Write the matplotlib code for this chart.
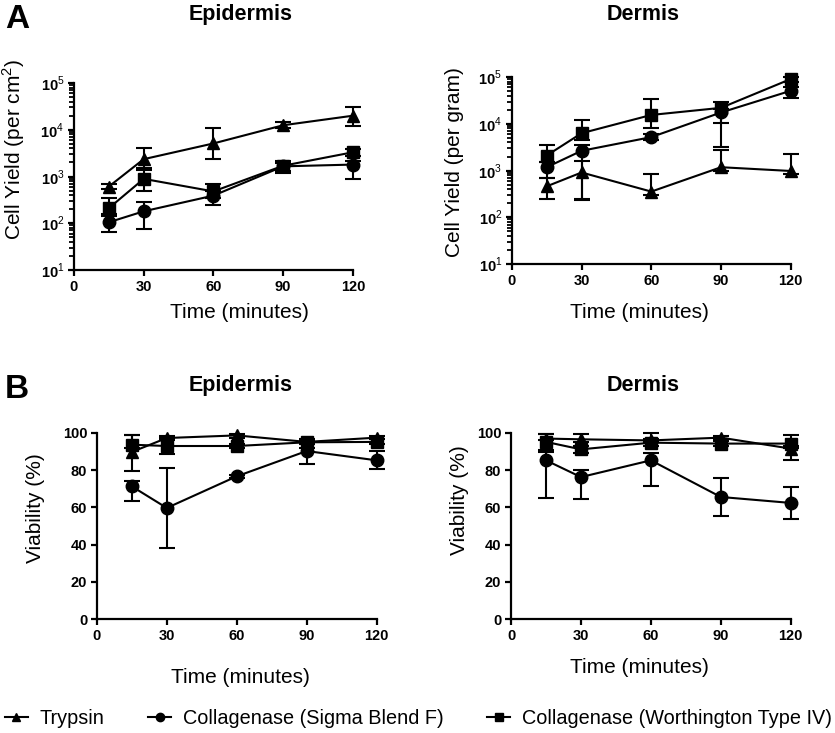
import matplotlib
matplotlib.use("Agg")
import matplotlib.pyplot as plt
from matplotlib.lines import Line2D
from matplotlib.ticker import LogLocator, NullFormatter
import numpy as np

plt.rcParams['font.family'] = ['Liberation Sans', 'DejaVu Sans']
plt.rcParams['mathtext.fontset'] = 'custom'
plt.rcParams['mathtext.rm'] = 'Liberation Sans'
plt.rcParams['mathtext.bf'] = 'Liberation Sans:bold'

# 时间点 (minutes)
times = [15, 30, 60, 90, 120]
series_names = ["Trypsin", "Collagenase (Sigma Blend F)", "Collagenase (Worthington Type IV)"]
markers = ["^", "o", "s"]

# A: cell yield, epidermis (per cm2)
epi_yield = [[610, 2350, 5100, 12500, 20000],
             [105, 180, 390, 1650, 1800],
             [210, 890, 480, 1700, 3300]]
epi_yield_lo = [[540, 1400, 2400, 11000, 12000],
                [66, 77, 250, 1170, 890],
                [160, 500, 340, 1300, 2800]]
epi_yield_hi = [[700, 4100, 11000, 14500, 31000],
                [140, 290, 480, 1900, 2200],
                [345, 1500, 690, 2100, 3900]]

# A: cell yield, dermis (per gram)
der_yield = [[460, 910, 355, 1180, 980],
             [1180, 2650, 5200, 17500, 51000],
             [2100, 6300, 15500, 22000, 91000]]
der_yield_lo = [[245, 235, 300, 1000, 850],
                [690, 250, 4500, 3200, 36000],
                [1500, 4500, 8000, 10400, 80000]]
der_yield_hi = [[700, 1600, 850, 2800, 2230],
                [1500, 3500, 6000, 21000, 60000],
                [3500, 12300, 34000, 30000, 100000]]

# B: viability, epidermis (%)
epi_via = [[89.8, 97.3, 98.7, 95.2, 97.5],
           [71.3, 59.7, 76.7, 90.3, 85.3],
           [93.7, 93.0, 93.0, 95.0, 95.2]]
epi_via_lo = [[79.6, 96.0, 97.5, 94.0, 96.5],
              [63.4, 38.2, 76.0, 83.5, 80.8],
              [92.0, 88.5, 92.0, 94.0, 94.0]]
epi_via_hi = [[98.7, 98.5, 99.5, 96.5, 98.5],
              [74.2, 81.4, 77.5, 92.0, 90.1],
              [99.0, 97.5, 94.0, 96.0, 96.5]]

# B: viability, dermis (%)
der_via = [[97.0, 96.6, 96.0, 97.5, 91.6],
           [85.3, 76.3, 85.3, 65.6, 62.4],
           [95.2, 91.2, 94.8, 94.3, 94.3]]
der_via_lo = [[96.0, 95.0, 95.0, 96.5, 85.7],
              [65.2, 64.7, 71.3, 55.2, 53.9],
              [91.0, 89.0, 93.0, 93.0, 92.0]]
der_via_hi = [[99.5, 99.5, 97.0, 98.5, 93.0],
              [90.0, 80.0, 89.0, 75.8, 71.0],
              [99.5, 93.0, 99.8, 95.5, 99.1]]

fig = plt.figure(figsize=(8.35, 7.33), dpi=100)

axA1 = fig.add_axes([0.0886, 0.6317, 0.334, 0.255])
axA2 = fig.add_axes([0.613, 0.6398, 0.334, 0.255])
axB1 = fig.add_axes([0.116, 0.1555, 0.335, 0.2538])
axB2 = fig.add_axes([0.612, 0.1555, 0.335, 0.2538])


def draw(ax, vals, lo, hi):
    for i in range(3):
        v = np.array(vals[i])
        err = [v - np.array(lo[i]), np.array(hi[i]) - v]
        ax.errorbar(times, v, yerr=err, color='black', marker=markers[i],
                    markersize=9, lw=1.5, elinewidth=1.5, capsize=5.5,
                    capthick=1.5, clip_on=False, zorder=3)


def style(ax, xlab_pos, ylab_pos):
    for s in ['top', 'right']:
        ax.spines[s].set_visible(False)
    for s in ['left', 'bottom']:
        ax.spines[s].set_linewidth(1.6)
    ax.set_xlim(0, 120)
    ax.set_xticks([0, 30, 60, 90, 120])
    ax.tick_params(which='major', width=1.6, length=4, labelsize=10.5, pad=3)
    ax.tick_params(which='minor', width=1.3, length=3.5)
    for lab in ax.get_xticklabels() + ax.get_yticklabels():
        lab.set_fontweight('bold')
    ax.set_xlabel("Time (minutes)", fontsize=15)
    ax.xaxis.set_label_coords(*xlab_pos)
    ax.yaxis.set_label_coords(*ylab_pos)


for ax, vals, lo, hi, ylab, xp, yp in [
        (axA1, epi_yield, epi_yield_lo, epi_yield_hi, "Cell Yield (per cm$^2$)", (0.595, -0.176), (-0.17, 0.647)),
        (axA2, der_yield, der_yield_lo, der_yield_hi, "Cell Yield (per gram)", (0.459, -0.209), (-0.172, 0.545))]:
    draw(ax, vals, lo, hi)
    ax.set_yscale('log')
    ax.set_ylim(10, 1e5)
    ax.set_yticks([10, 100, 1000, 1e4, 1e5])
    ax.set_yticklabels([r'$\mathbf{10}^{%d}$' % k for k in range(1, 6)])
    ax.yaxis.set_minor_locator(LogLocator(base=10, subs=np.arange(2, 10), numticks=20))
    ax.yaxis.set_minor_formatter(NullFormatter())
    ax.set_ylabel(ylab, fontsize=15)
    style(ax, xp, yp)

for ax, vals, lo, hi, xp, yp in [
        (axB1, epi_via, epi_via_lo, epi_via_hi, (0.514, -0.263), (-0.185, 0.597)),
        (axB2, der_via, der_via_lo, der_via_hi, (0.46, -0.21), (-0.15, 0.64))]:
    draw(ax, vals, lo, hi)
    ax.set_ylim(0, 100)
    ax.set_yticks([0, 20, 40, 60, 80, 100])
    ax.set_ylabel("Viability (%)", fontsize=15)
    style(ax, xp, yp)

# 标题
fig.text(0.288, 0.995, "Epidermis", fontsize=15.5, fontweight='bold', ha='center', va='top')
fig.text(0.77, 0.995, "Dermis", fontsize=15.5, fontweight='bold', ha='center', va='top')
fig.text(0.288, 0.488, "Epidermis", fontsize=15.5, fontweight='bold', ha='center', va='top')
fig.text(0.77, 0.488, "Dermis", fontsize=15.5, fontweight='bold', ha='center', va='top')
fig.text(0.006, 0.995, "A", fontsize=24, fontweight='bold', ha='left', va='top')
fig.text(0.006, 0.49, "B", fontsize=24, fontweight='bold', ha='left', va='top')

handles = [Line2D([], [], color='black', marker=m, markersize=6, lw=1.5) for m in markers]
fig.legend(handles, series_names, loc='lower left', bbox_to_anchor=(0.0, 0.0),
           ncol=3, frameon=False, fontsize=14.3, handlelength=1.15, handletextpad=0.6,
           columnspacing=2.2, borderaxespad=0.0, borderpad=0.25)

fig.savefig("out.png", dpi=100)
